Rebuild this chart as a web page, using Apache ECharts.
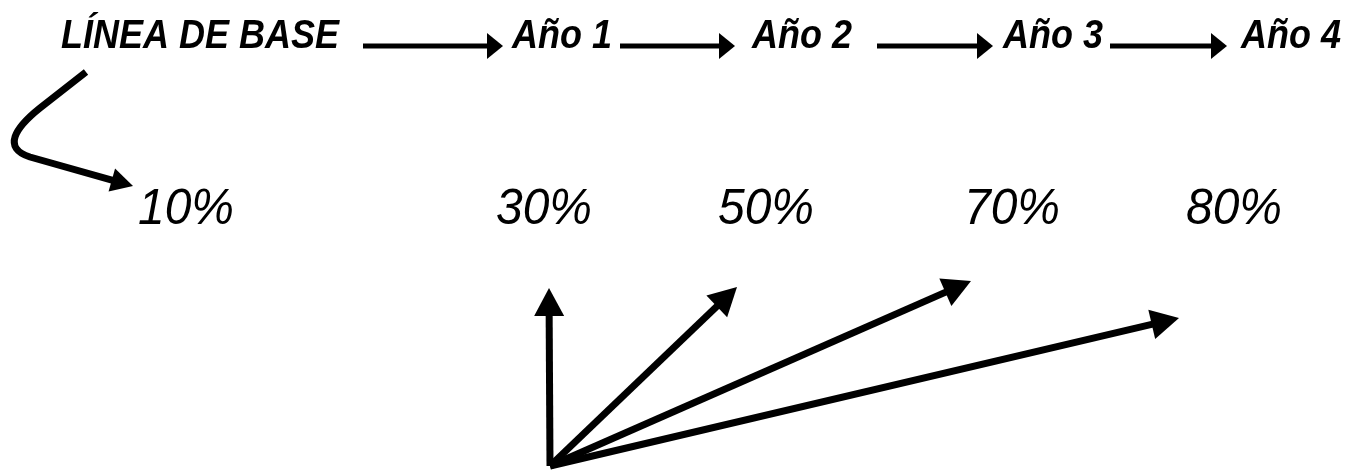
<!DOCTYPE html>
<html>
<head>
<meta charset="utf-8">
<script src="https://cdn.jsdelivr.net/npm/echarts@6/dist/echarts.min.js"></script>
<style>
html,body{margin:0;padding:0;background:#fff;}
#chart{width:1350px;height:473px;}
</style>
</head>
<body>
<div id="chart"></div>
<script>
// ---- data ----
const stages = ['LÍNEA DE BASE', 'Año 1', 'Año 2', 'Año 3', 'Año 4'];
const percentValues = [10, 30, 50, 70, 80];
const percentLabels = percentValues.map(v => v + '%');

// ---- layout (pixel-space positions on hidden 1350x473 axes) ----
const stageX = [200, 562, 802, 1053, 1291];
const stageY = 37;
const pctX = [186, 544, 766, 1012, 1234];
const pctY = 210;
const flowArrowX = [[363, 503], [620, 735], [877, 993], [1110, 1227]];
const flowArrowY = 46;
const fanOrigin = [550, 466];
const fanTips = [[549, 288], [737, 287], [971, 281], [1179, 318]];
const curvePts = [[86, 72], [40, 108], [15, 128], [2, 148], [30, 157], [133, 186]];

const FONT = '"Liberation Sans", Arial, Helvetica, sans-serif';

function textSeries(xs, y, labels, font, sy) {
  return {
    type: 'custom',
    coordinateSystem: 'cartesian2d',
    data: xs.map(x => [x, y]),
    renderItem: function (params, api) {
      const p = api.coord([api.value(0), api.value(1)]);
      return {
        type: 'text',
        x: p[0], y: p[1],
        scaleY: sy,
        style: {
          text: labels[params.dataIndex],
          font: font,
          fill: '#000',
          align: 'center',
          verticalAlign: 'middle'
        }
      };
    }
  };
}

function arrowSeries(data, shaftW, headLen, headHalf) {
  return {
    type: 'custom',
    coordinateSystem: 'cartesian2d',
    data: data,
    renderItem: function (params, api) {
      const a = api.coord([api.value(0), api.value(1)]);
      const b = api.coord([api.value(2), api.value(3)]);
      const dx = b[0] - a[0], dy = b[1] - a[1];
      const len = Math.sqrt(dx * dx + dy * dy);
      const ux = dx / len, uy = dy / len;
      const bx = b[0] - ux * headLen, by = b[1] - uy * headLen;
      const px = -uy * headHalf, py = ux * headHalf;
      return {
        type: 'group',
        children: [
          {
            type: 'line',
            shape: { x1: a[0], y1: a[1], x2: bx + ux * 1, y2: by + uy * 1 },
            style: { stroke: '#000', lineWidth: shaftW, lineCap: 'butt' }
          },
          {
            type: 'polygon',
            shape: { points: [[b[0], b[1]], [bx + px, by + py], [bx - px, by - py]] },
            style: { fill: '#000' }
          }
        ]
      };
    }
  };
}

const flowData = flowArrowX.map(s => [s[0], flowArrowY, s[1], flowArrowY]);
const fanData = fanTips.map(t => [fanOrigin[0], fanOrigin[1], t[0], t[1]]);

const curveSeries = {
  type: 'custom',
  coordinateSystem: 'cartesian2d',
  data: [curvePts.flat()],
  renderItem: function (params, api) {
    const P = [];
    for (let i = 0; i < curvePts.length; i++) {
      P.push(api.coord([api.value(2 * i), api.value(2 * i + 1)]));
    }
    const tip = P[5];
    const prev = P[4];
    const dx = tip[0] - prev[0], dy = tip[1] - prev[1];
    const len = Math.sqrt(dx * dx + dy * dy);
    const ux = dx / len, uy = dy / len;
    const headLen = 22, headHalf = 12;
    const bx = tip[0] - ux * headLen, by = tip[1] - uy * headLen;
    const px = -uy * headHalf, py = ux * headHalf;
    const d = 'M' + P[0][0] + ' ' + P[0][1] +
      ' L' + P[1][0] + ' ' + P[1][1] +
      ' C' + P[2][0] + ' ' + P[2][1] + ' ' + P[3][0] + ' ' + P[3][1] + ' ' + P[4][0] + ' ' + P[4][1] +
      ' L' + (bx + ux) + ' ' + (by + uy);
    return {
      type: 'group',
      children: [
        {
          type: 'path',
          shape: { pathData: d },
          style: { stroke: '#000', fill: null, lineWidth: 7, lineJoin: 'round', lineCap: 'butt' }
        },
        {
          type: 'polygon',
          shape: { points: [[tip[0], tip[1]], [bx + px, by + py], [bx - px, by - py]] },
          style: { fill: '#000' }
        }
      ]
    };
  }
};

const chart = echarts.init(document.getElementById('chart'), null, { renderer: 'canvas' });
chart.setOption({
  backgroundColor: '#fff',
  animation: false,
  grid: { left: 0, right: 0, top: 0, bottom: 0 },
  xAxis: { type: 'value', min: 0, max: 1350, show: false },
  yAxis: { type: 'value', min: 0, max: 473, inverse: true, show: false },
  series: [
    textSeries(stageX, stageY, stages, 'italic bold 36px ' + FONT, 1.13),
    textSeries(pctX, pctY, percentLabels, 'italic normal 48px ' + FONT, 1.04),
    arrowSeries(flowData, 5, 16, 13),
    arrowSeries(fanData, 7, 28, 15),
    curveSeries
  ]
});
</script>
</body>
</html>
